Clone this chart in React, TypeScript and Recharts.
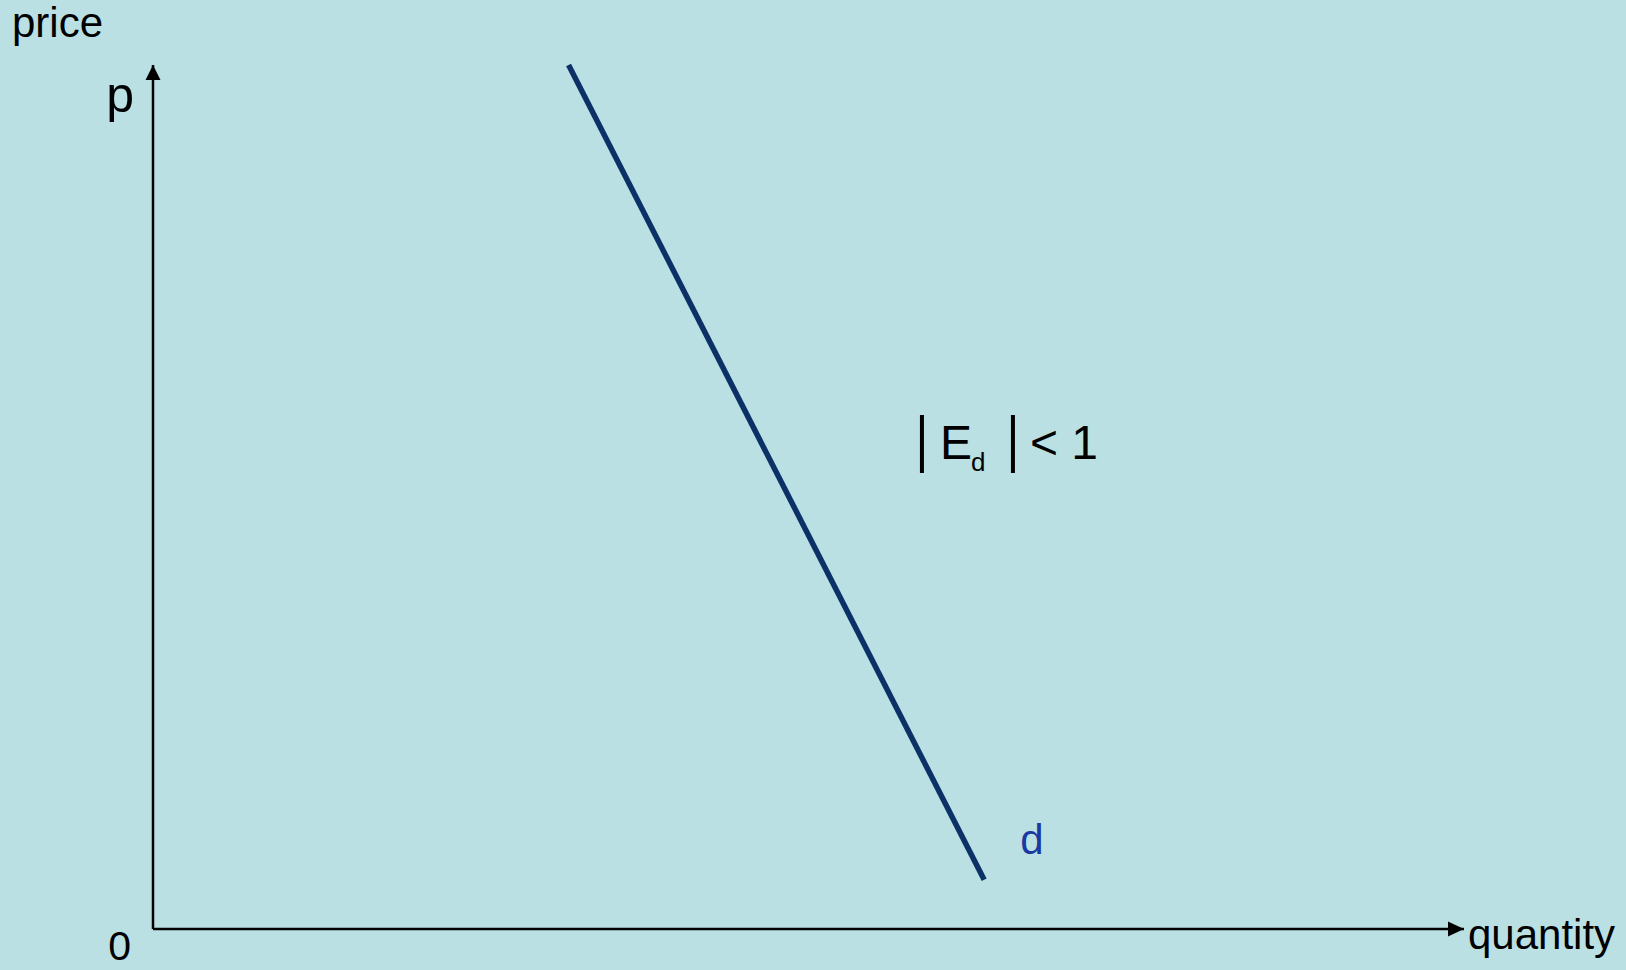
import React from "react";
import { LineChart, Line, XAxis, YAxis, ReferenceLine, ReferenceDot } from "recharts";

// Demand curve d: quantity vs price (axis units 0..100)
const quantities = [31.7, 63.4];
const prices = [100, 5.7];
const demand = quantities.map((q, i) => ({ q, p: prices[i] }));

const axisMax = 100;
const labelTexts = { yTitle: "price", yTop: "p", origin: "0", xTitle: "quantity", curve: "d" };
const elasticityAnchor = { q: 58.5, p: 54.4 };

const W = 1626;
const H = 970;
const BG = "#bae0e4";
const LINE = "#0b3166";
const FONT = "'Liberation Sans', Arial, sans-serif";

const TriangleUp = (props: any) => {
  const { cx, cy } = props;
  return <path d={`M${cx},${cy} L${cx - 7.5},${cy + 15} L${cx + 7.5},${cy + 15} Z`} fill="#000" />;
};
const TriangleRight = (props: any) => {
  const { cx, cy } = props;
  return <path d={`M${cx},${cy} L${cx - 16},${cy - 7.5} L${cx - 16},${cy + 7.5} Z`} fill="#000" />;
};

const TopLeftLabels = (props: any) => {
  const { cx, cy } = props;
  return (
    <g fontFamily={FONT} fill="#000">
      <text x={cx - 141} y={cy - 28} fontSize={42}>{labelTexts.yTitle}</text>
      <text x={cx - 19} y={cy + 47} fontSize={50} textAnchor="end">{labelTexts.yTop}</text>
    </g>
  );
};
const OriginLabel = (props: any) => {
  const { cx, cy } = props;
  return (
    <text x={cx - 22} y={cy + 31} fontSize={41} textAnchor="end" fontFamily={FONT} fill="#000">
      {labelTexts.origin}
    </text>
  );
};
const XTitle = (props: any) => {
  const { cx, cy } = props;
  return (
    <text x={cx + 4} y={cy + 20} fontSize={42} fontFamily={FONT} fill="#000">
      {labelTexts.xTitle}
    </text>
  );
};
const CurveLabel = (props: any) => {
  const { cx, cy } = props;
  return (
    <text x={cx + 36} y={cy - 26} fontSize={42} fontFamily={FONT} fill="#1a3aa0">
      {labelTexts.curve}
    </text>
  );
};
const ElasticityLabel = (props: any) => {
  const { cx, cy } = props;
  return (
    <g fontFamily={FONT} fill="#000">
      <line x1={cx + 2} y1={cy - 44} x2={cx + 2} y2={cy + 14} stroke="#000" strokeWidth={4} />
      <text x={cx + 20} y={cy} fontSize={48}>E</text>
      <text x={cx + 51} y={cy + 12} fontSize={26}>d</text>
      <line x1={cx + 93} y1={cy - 44} x2={cx + 93} y2={cy + 14} stroke="#000" strokeWidth={4} />
      <text x={cx + 110} y={cy} fontSize={48}>{"< 1"}</text>
    </g>
  );
};

export default function App() {
  return (
    <div style={{ position: "fixed", left: 0, top: 0, width: W, height: H, background: BG }}>
      <LineChart width={W} height={H} data={demand} margin={{ top: 65, right: 162, bottom: 41, left: 153 }}>
        <XAxis type="number" dataKey="q" domain={[0, axisMax]} hide />
        <YAxis type="number" dataKey="p" domain={[0, axisMax]} hide />
        <ReferenceLine segment={[{ x: 0, y: 0 }, { x: axisMax, y: 0 }]} stroke="#000" strokeWidth={2.5} ifOverflow="visible" />
        <ReferenceLine segment={[{ x: 0, y: 0 }, { x: 0, y: axisMax }]} stroke="#000" strokeWidth={2.5} ifOverflow="visible" />
        <ReferenceDot x={0} y={axisMax} r={0} shape={TriangleUp} ifOverflow="visible" />
        <ReferenceDot x={axisMax} y={0} r={0} shape={TriangleRight} ifOverflow="visible" />
        <ReferenceDot x={0} y={axisMax} r={0} shape={TopLeftLabels} ifOverflow="visible" />
        <ReferenceDot x={0} y={0} r={0} shape={OriginLabel} ifOverflow="visible" />
        <ReferenceDot x={axisMax} y={0} r={0} shape={XTitle} ifOverflow="visible" />
        <Line type="linear" dataKey="p" stroke={LINE} strokeWidth={5.5} dot={false} activeDot={false} isAnimationActive={false} />
        <ReferenceDot x={quantities[1]} y={prices[1]} r={0} shape={CurveLabel} ifOverflow="visible" />
        <ReferenceDot x={elasticityAnchor.q} y={elasticityAnchor.p} r={0} shape={ElasticityLabel} ifOverflow="visible" />
      </LineChart>
    </div>
  );
}
